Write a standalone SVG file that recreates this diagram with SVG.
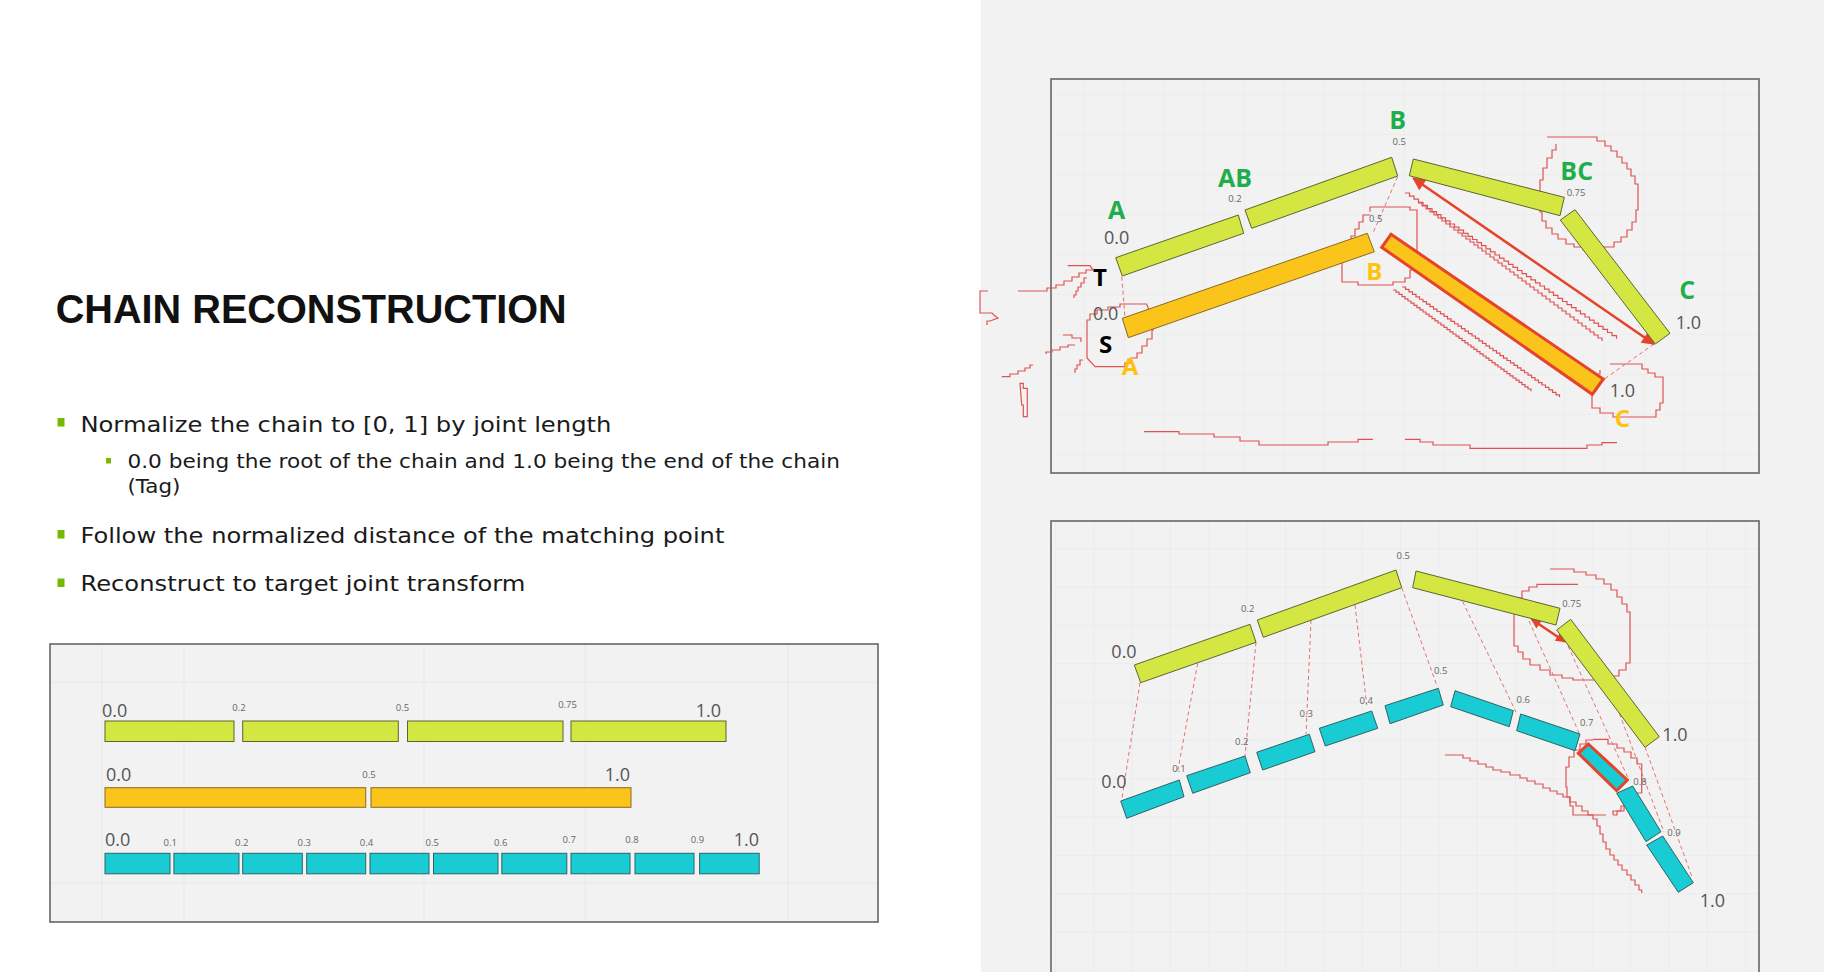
<svg xmlns="http://www.w3.org/2000/svg" width="1824" height="972" viewBox="0 0 1824 972">
<defs>
<style>
.title{font-family:"Liberation Sans",Arial,sans-serif;font-weight:bold;font-size:40px;fill:#111}
.b1{font-family:"DejaVu Sans","Liberation Sans",sans-serif;font-size:22px;fill:#1a1a1a}
.b2{font-family:"DejaVu Sans","Liberation Sans",sans-serif;font-size:19px;fill:#1a1a1a}
.num{font-family:"Open Sans","Liberation Sans",sans-serif;font-size:18px;fill:#555}
.sm{font-family:"Open Sans","Liberation Sans",sans-serif;font-size:9.5px;fill:#666}
.lg{font-family:"Open Sans","Liberation Sans",sans-serif;font-weight:bold;font-size:25px;fill:#1fae4b}
.lo{font-family:"Open Sans","Liberation Sans",sans-serif;font-weight:bold;font-size:24px;fill:#ffc20e}
.lk{font-family:"Open Sans","Liberation Sans",sans-serif;font-weight:bold;font-size:24px;fill:#000}
.gb{fill:#d3e642;stroke:#5d6630;stroke-width:1}
.ob{fill:#fac41b;stroke:#8a6a22;stroke-width:1}
.cb{fill:#19cbd3;stroke:#2f6466;stroke-width:1}
.hl{stroke:#e5432b;stroke-width:3}
.dash{stroke:#e87070;stroke-width:1;stroke-dasharray:4 3;fill:none}
.jag{stroke:#e05252;stroke-width:1.2;fill:none}
.arr{stroke:#e5432b;stroke-width:2.5;fill:none}
.panel{fill:#f2f2f2;stroke:#666;stroke-width:1.6}
.bullet{fill:#76b900}
</style>
<marker id="ah" viewBox="0 0 10 10" refX="9" refY="5" markerWidth="16" markerHeight="13" markerUnits="userSpaceOnUse" orient="auto-start-reverse"><path d="M0,0 L10,5 L0,10 z" fill="#e5432b"/></marker>
<marker id="ahs" viewBox="0 0 10 10" refX="9" refY="5" markerWidth="12" markerHeight="10" markerUnits="userSpaceOnUse" orient="auto-start-reverse"><path d="M0,0 L10,5 L0,10 z" fill="#e5432b"/></marker>
<pattern id="gridT" x="1084" y="134" width="40" height="40" patternUnits="userSpaceOnUse"><path d="M0,0 H40 M0,0 V40" stroke="#e6e6e6" stroke-width="1" fill="none"/></pattern>
<pattern id="gridB" x="1093.4" y="548.3" width="38.33" height="38.33" patternUnits="userSpaceOnUse"><path d="M0,0 H38.33 M0,0 V38.33" stroke="#e6e6e6" stroke-width="1" fill="none"/></pattern>
</defs>

<rect x="0" y="0" width="1824" height="972" fill="#ffffff"/>
<rect x="981" y="0" width="843" height="972" fill="#f2f2f2"/>

<g id="title"><text class="title" x="55.7" y="322.7" textLength="511" lengthAdjust="spacingAndGlyphs">CHAIN RECONSTRUCTION</text></g>

<g id="bullets">
<rect class="bullet" x="57.5" y="418" width="7" height="8.5"/>
<text class="b1" x="80.4" y="431.7" textLength="531" lengthAdjust="spacingAndGlyphs">Normalize the chain to [0, 1] by joint length</text>
<rect class="bullet" x="106" y="458" width="5" height="5.5"/>
<text class="b2" x="127.4" y="468" textLength="712.6" lengthAdjust="spacingAndGlyphs">0.0 being the root of the chain and 1.0 being the end of the chain</text>
<text class="b2" x="127.4" y="492.5" textLength="53" lengthAdjust="spacingAndGlyphs">(Tag)</text>
<rect class="bullet" x="57.5" y="530" width="7" height="8.5"/>
<text class="b1" x="80.4" y="542.7" textLength="644" lengthAdjust="spacingAndGlyphs">Follow the normalized distance of the matching point</text>
<rect class="bullet" x="57.5" y="578.5" width="7" height="8.5"/>
<text class="b1" x="80.4" y="590.7" textLength="445" lengthAdjust="spacingAndGlyphs">Reconstruct to target joint transform</text>
</g>

<!-- bottom-left normalized chains -->
<g id="panel-normalized">
<rect class="panel" x="50" y="644" width="828" height="278" fill="#f3f3f3"/>
<g stroke="#e8e8e8" stroke-width="1">
<line x1="102" y1="645" x2="102" y2="921"/><line x1="184" y1="645" x2="184" y2="921"/><line x1="424" y1="645" x2="424" y2="921"/><line x1="585" y1="645" x2="585" y2="921"/><line x1="788" y1="645" x2="788" y2="921"/>
<line x1="51" y1="682" x2="877" y2="682"/><line x1="51" y1="883" x2="877" y2="883"/>
</g>
<g id="row-green">
<rect class="gb" x="105" y="721" width="129" height="20.5"/>
<rect class="gb" x="242.7" y="721" width="155.6" height="20.5"/>
<rect class="gb" x="407.5" y="721" width="155.5" height="20.5"/>
<rect class="gb" x="571" y="721" width="155" height="20.5"/>
<text class="num" x="102" y="717" font-size="19">0.0</text>
<text class="sm" x="239" y="711" text-anchor="middle">0.2</text>
<text class="sm" x="402.5" y="711" text-anchor="middle">0.5</text>
<text class="sm" x="567.6" y="707.7" text-anchor="middle">0.75</text>
<text class="num" x="721" y="717" font-size="19" text-anchor="end">1.0</text>
</g>
<g id="row-orange">
<rect class="ob" x="105" y="787.7" width="260.7" height="19.6"/>
<rect class="ob" x="371" y="787.7" width="260" height="19.6"/>
<text class="num" x="106" y="780.7" font-size="19">0.0</text>
<text class="sm" x="369" y="778" text-anchor="middle">0.5</text>
<text class="num" x="630" y="780.7" font-size="19" text-anchor="end">1.0</text>
</g>
<g id="row-cyan">
<rect class="cb" x="105" y="853.3" width="65" height="20.5"/>
<rect class="cb" x="173.9" y="853.3" width="65.1" height="20.5"/>
<rect class="cb" x="242.7" y="853.3" width="59.6" height="20.5"/>
<rect class="cb" x="306.7" y="853.3" width="59" height="20.5"/>
<rect class="cb" x="370" y="853.3" width="59" height="20.5"/>
<rect class="cb" x="433.5" y="853.3" width="64.5" height="20.5"/>
<rect class="cb" x="501.8" y="853.3" width="65" height="20.5"/>
<rect class="cb" x="571" y="853.3" width="59" height="20.5"/>
<rect class="cb" x="635" y="853.3" width="59" height="20.5"/>
<rect class="cb" x="699.6" y="853.3" width="59.6" height="20.5"/>
<text class="num" x="105" y="845.7" font-size="19">0.0</text>
<text class="sm" x="170.3" y="845.7" text-anchor="middle">0.1</text>
<text class="sm" x="241.8" y="845.7" text-anchor="middle">0.2</text>
<text class="sm" x="304.2" y="845.7" text-anchor="middle">0.3</text>
<text class="sm" x="366.5" y="845.7" text-anchor="middle">0.4</text>
<text class="sm" x="432.2" y="845.7" text-anchor="middle">0.5</text>
<text class="sm" x="500.8" y="845.7" text-anchor="middle">0.6</text>
<text class="sm" x="569.3" y="843" text-anchor="middle">0.7</text>
<text class="sm" x="632" y="843" text-anchor="middle">0.8</text>
<text class="sm" x="697.5" y="843" text-anchor="middle">0.9</text>
<text class="num" x="759" y="845.7" font-size="19" text-anchor="end">1.0</text>
</g>
</g>

<!-- top-right panel -->
<g id="panel-top">
<rect class="panel" x="1051" y="79" width="708" height="394"/>
<rect x="1052" y="80" width="706" height="392" fill="url(#gridT)"/>
</g>

<g id="annotations-top">
<path class="jag" d="M1067.7,265.7 H1090 L1093,270 H1086 V273 H1079 V277 H1072 V281 H1064 V285 H1056 V288 H1047 V291 H1018"/>
<path class="jag" d="M1087,278 H1084 V283 H1081 V287 H1078 V291 H1076 V295 H1074 V298"/>
<path class="jag" d="M988,291 H980 V313 H992 L995,316 L998,318 L990,321 H987 V325"/>
<path class="jag" d="M1146.7,304 H1120 V307 H1108 V310 H1097 V314 H1090 V320 H1087 V358 L1095,366.7 H1125 V363 H1131 V358 H1137 V353 H1142 V346 H1147 V339 H1152 V330 H1153 V313 H1150 Z"/>
<path class="jag" d="M1063,335 H1072 V338 H1081 V342"/>
<path class="jag" d="M1075,345 H1068 V347 H1060 V350 H1052 V352 H1046 V354"/>
<path class="jag" d="M1083,360 H1080 V365 H1077 V369 H1075 V373"/>
<path class="jag" d="M1001.7,376.7 H1010 V374 H1018 V371 H1025 V368 H1030 V365 H1033"/>
<path class="jag" d="M1020,383.3 H1023.3 V388.3 H1027.3 V416.7 H1023.3 V405 H1021.7 Z"/>
<path class="jag" d="M1370,211.7 V207 H1410 V210 H1417 V262 H1414 V270 H1410 V278 H1405 V282 H1393 V285 H1358 V282 H1342 V252 H1346 V244 H1351 V236 H1355 V229 H1359 V222 H1363 V215 H1370"/>
<path class="jag" d="M1547,137 H1597 V141 H1605 V146 H1611 V151 H1617 V157 H1622 V163 H1627 V169 H1631 V176 H1635 V184 H1638 V210 H1636 V222 H1632 V230 H1627 V237 H1621 V242 H1614 V247 H1604 V250 H1583 V247 H1574 V244 H1566 V239 H1558 V234 H1552 V228 H1546 V221 H1542 V212 H1540 V180 H1543 V168 H1547 V158 H1552 V150 H1556 V144"/>
<path class="jag" d="M1610,364 H1642 V369 H1648 V373 H1655 V377 H1663 V403 H1660 V410 H1656 V417 H1613 V413 H1600 V408 H1592 V380 H1595 V374 H1600 V370"/>
<path class="jag" d="M1405,193 h4.5v3.1h4.5v3.1h4.5v3.1h4.5v3.1h4.5v3.1h4.5v3.1h4.5v3.1h4.5v3.1h4.5v3.1h4.5v3.1h4.5v3.1h4.5v3.1h4.5v3.1h4.5v3.1h4.5v3.1h4.5v3.1h4.5v3.1h4.5v3.1h4.5v3.1h4.5v3.1h4.5v3.1h4.5v3.1h4.5v3.1h4.5v3.1h4.5v3.1h4.5v3.1h4.5v3.1h4.5v3.1h4.5v3.1h4.5v3.1h4.5v3.1h4.5v3.1h4.5v3.1h4.5v3.1h4.5v3.1h4.5v3.1h4.5v3.1h4.5v3.1h4.5v3.1h4.5v3.1h4.5v3.1h4.5v3.1h4.5v3.1h4.5v3.1h4.5v3.1h4.5v3.1h4.5v3.1"/>
<path class="jag" d="M1418,203 h4v3h4v3h4v3h4v3h4v3h4v3h4v3h4v3h4v3h4v3h4v3h4v3h4v3h4v3h4v3h4v3h4v3h4v3h4v3h4v3h4v3h4v3h4v3h4v3h4v3h4v3h4v3h4v3h4v3h4v3h4v3h4v3h4v3h4v3h4v3h4v3h4v3h4v3h4v3h4v3h4v3h4v3h4v3h4v3h4v3h4v3"/>
<path class="jag" d="M1393,290 h3v2.2h3v2.2h3v2.2h3v2.2h3v2.2h3v2.2h3v2.2h3v2.2h3v2.2h3v2.2h3v2.2h3v2.2h3v2.2h3v2.2h3v2.2h3v2.2h3v2.2h3v2.2h3v2.2h3v2.2h3v2.2h3v2.2h3v2.2h3v2.2h3v2.2h3v2.2h3v2.2h3v2.2h3v2.2h3v2.2h3v2.2h3v2.2h3v2.2h3v2.2h3v2.2h3v2.2h3v2.2h3v2.2h3v2.2h3v2.2h3v2.2h3v2.2h3v2.2h3v2.2h3v2.2h3v2.2"/>
<path class="jag" d="M1402,287 h3.5v2.45h3.5v2.45h3.5v2.45h3.5v2.45h3.5v2.45h3.5v2.45h3.5v2.45h3.5v2.45h3.5v2.45h3.5v2.45h3.5v2.45h3.5v2.45h3.5v2.45h3.5v2.45h3.5v2.45h3.5v2.45h3.5v2.45h3.5v2.45h3.5v2.45h3.5v2.45h3.5v2.45h3.5v2.45h3.5v2.45h3.5v2.45h3.5v2.45h3.5v2.45h3.5v2.45h3.5v2.45h3.5v2.45h3.5v2.45h3.5v2.45h3.5v2.45h3.5v2.45h3.5v2.45h3.5v2.45h3.5v2.45h3.5v2.45h3.5v2.45h3.5v2.45h3.5v2.45h3.5v2.45h3.5v2.45h3.5v2.45h3.5v2.45h3.5v2.45"/>
<path class="jag" d="M1144,431.7 H1179 V434 H1214 V437 H1240 V441 H1259 V445 H1328 V442 H1358 V439.3 H1373"/>
<path class="jag" d="M1405,439.3 H1420 V442 H1433 V445 H1470 V448.3 H1587 V445 H1602 V442.7 H1617"/>
</g>

<g id="connectors-top">
<line class="dash" x1="1121.7" y1="276.7" x2="1125" y2="318"/>
<line class="dash" x1="1397.7" y1="176.7" x2="1373" y2="233"/>
<line class="dash" x1="1654" y1="344" x2="1603" y2="380"/>
<line class="arr" x1="1413.3" y1="178.3" x2="1654" y2="344" marker-start="url(#ah)" marker-end="url(#ah)"/>
</g>

<g id="target-chain-top">
<polygon class="gb" points="1115.7,257.7 1238.3,215 1243.7,233.3 1122.3,276"/>
<polygon class="gb" points="1245,210 1391.7,157.3 1397.7,176 1251.7,228.3"/>
<polygon class="gb" points="1413.3,159 1564.3,197.3 1560,215.7 1409.3,175.7"/>
<polygon class="gb" points="1575,209.7 1670,333.3 1655.3,344 1560.3,220"/>
</g>
<g id="source-chain-top">
<polygon class="ob" points="1122.3,318.3 1367.3,233.3 1374.3,251.7 1128.3,337.7"/>
<polygon class="ob hl" points="1391,234.3 1603.3,379 1592.3,394.3 1381.7,247.3"/>
</g>

<g id="labels-top">
<text class="lg" x="1116.7" y="219.3" text-anchor="middle">A</text>
<text class="num" x="1116.7" y="244.3" text-anchor="middle" font-size="17">0.0</text>
<text class="lg" x="1235" y="186.7" text-anchor="middle">AB</text>
<text class="sm" x="1235" y="201.7" text-anchor="middle">0.2</text>
<text class="lg" x="1397.7" y="129.3" text-anchor="middle">B</text>
<text class="sm" x="1399.3" y="145.3" text-anchor="middle">0.5</text>
<text class="lg" x="1576.7" y="180" text-anchor="middle">BC</text>
<text class="sm" x="1566.7" y="196">0.75</text>
<text class="lg" x="1687.3" y="299.3" text-anchor="middle">C</text>
<text class="num" x="1688.3" y="329.3" text-anchor="middle" font-size="17">1.0</text>
<text class="lk" x="1100" y="285.7" text-anchor="middle">T</text>
<text class="num" x="1105.7" y="320" text-anchor="middle" font-size="17">0.0</text>
<text class="lk" x="1105.7" y="353.3" text-anchor="middle">S</text>
<text class="lo" x="1130" y="375" text-anchor="middle">A</text>
<text class="sm" x="1375.7" y="221.7" text-anchor="middle">0.5</text>
<text class="lo" x="1374.3" y="280" text-anchor="middle">B</text>
<text class="num" x="1622.3" y="396.7" text-anchor="middle" font-size="17">1.0</text>
<text class="lo" x="1622.3" y="427.3" text-anchor="middle">C</text>
</g>

<!-- bottom-right panel -->
<g id="panel-bottom">
<rect class="panel" x="1051" y="521" width="708" height="470"/>
<rect x="1052" y="522" width="706" height="460" fill="url(#gridB)"/>
</g>

<g id="annotations-bottom">
<path class="jag" d="M1550,569 H1574 V572 H1586 V575 H1596 V579 H1604 V584 H1611 V590 H1617 V597 H1622 V604 H1627 V612 H1630 V663 H1626 V670 H1619 V676 H1607 V680 H1573 V678 H1562 V675 H1550 V670 H1540 V665 H1530 V659 H1523 V652 H1518 V646 H1514 V608 H1517 V598 H1522 V591 H1529 V587 H1537 V584.3 H1578"/>
<path class="jag" d="M1593,739.3 H1608 V744 H1617 V748 H1624 V752 H1631 V758 H1637 V764 H1641.7 V793 H1637 V800 H1631 V806 H1624 V811 H1613 V815"/>
<path class="jag" d="M1606,815 H1573 V806 H1570 V797 H1567 V787 H1566 V767 H1569 V757 H1574 V750 H1580 V744 H1586 V740 H1593"/>
<path class="jag" d="M1445,755 H1463 V758 H1470 V761 H1478 V764 H1486 V767 H1493 V770 H1501 V772 H1510 V775 H1520 V778 H1527 V781 H1535 V784 H1543 V788 H1550 V791 H1557 V794 H1563 V797 H1570 V802 H1576 V806 H1582 V811 H1588 V815 H1593 V819 H1597 V826 H1600 V834 H1603 V842 H1606 V849 H1610 V855 H1614 V860 H1618 V865 H1622 V870 H1627 V875 H1631 V880 H1635 V885 H1639 V890 H1641.7 V893"/>
<path class="jag" d="M1613,815 H1617 V811 H1621 V806 H1625 V802 H1629 V797 H1633 V790"/>
</g>

<g id="connectors-bottom">
<line class="dash" x1="1140" y1="682.7" x2="1121.7" y2="800"/>
<line class="dash" x1="1197.7" y1="663.3" x2="1177.3" y2="773.3"/>
<line class="dash" x1="1256" y1="642.3" x2="1245" y2="756"/>
<line class="dash" x1="1311" y1="620" x2="1306" y2="734.3"/>
<line class="dash" x1="1355" y1="605" x2="1366.7" y2="705"/>
<line class="dash" x1="1401.7" y1="587.7" x2="1437.3" y2="686.7"/>
<line class="dash" x1="1462.7" y1="601.7" x2="1516" y2="712"/>
<line class="dash" x1="1529" y1="621" x2="1580" y2="735"/>
<line class="dash" x1="1568" y1="646" x2="1629" y2="780"/>
<line class="dash" x1="1612" y1="694" x2="1664" y2="832"/>
<line class="dash" x1="1645" y1="747" x2="1692" y2="877"/>
<line class="arr" x1="1531.7" y1="619.3" x2="1565" y2="641.7" marker-start="url(#ahs)" marker-end="url(#ahs)"/>
</g>

<g id="target-chain-bottom">
<polygon class="gb" points="1134.3,665 1250,624.3 1256,642.3 1140.7,682.7"/>
<polygon class="gb" points="1257.3,620 1396,570 1401.7,587.7 1263.3,637.3"/>
<polygon class="gb" points="1416,571 1560,608.3 1556,625 1412.7,587.7"/>
<polygon class="gb" points="1570.7,619.3 1659.3,736.7 1645,747.3 1556.7,630"/>
</g>
<g id="source-chain-bottom">
<polygon class="cb" points="1120.7,801 1179.3,780 1184,796.7 1126.7,818.3"/>
<polygon class="cb" points="1186.7,775.7 1245,756 1250.3,772.7 1192.7,793.3"/>
<polygon class="cb" points="1256.7,752.3 1309.3,734.3 1315,751.7 1262.7,770"/>
<polygon class="cb" points="1319.3,728.3 1371.7,711 1377.7,728.3 1325.3,746"/>
<polygon class="cb" points="1385,705.7 1438.3,688.3 1443.3,705 1390,723.7"/>
<polygon class="cb" points="1455,690.7 1513.3,710.7 1509.3,726.7 1450.7,706.7"/>
<polygon class="cb" points="1520.7,714 1580,734 1575,750.7 1516.7,730.7"/>
<polygon class="cb hl" points="1588.3,744 1627.3,780 1616.7,790.7 1578.3,753.3"/>
<polygon class="cb" points="1632.7,786 1661,831.7 1646,841.7 1616.7,793.3"/>
<polygon class="cb" points="1662.7,836 1693.3,882.7 1678.3,892.3 1646.7,845"/>
</g>

<g id="labels-bottom">
<text class="sm" x="1403.3" y="558.7" text-anchor="middle">0.5</text>
<text class="num" x="1124" y="658.3" text-anchor="middle">0.0</text>
<text class="sm" x="1247.7" y="612" text-anchor="middle">0.2</text>
<text class="sm" x="1562.3" y="606.7">0.75</text>
<text class="num" x="1675" y="740.7" text-anchor="middle">1.0</text>
<text class="num" x="1114" y="788.3" text-anchor="middle">0.0</text>
<text class="sm" x="1179" y="771.7" text-anchor="middle">0.1</text>
<text class="sm" x="1241.7" y="744.7" text-anchor="middle">0.2</text>
<text class="sm" x="1306.3" y="717.3" text-anchor="middle">0.3</text>
<text class="sm" x="1366.3" y="703.7" text-anchor="middle">0.4</text>
<text class="sm" x="1440.7" y="674" text-anchor="middle">0.5</text>
<text class="sm" x="1523.3" y="703.3" text-anchor="middle">0.6</text>
<text class="sm" x="1586.7" y="726" text-anchor="middle">0.7</text>
<text class="sm" x="1640" y="784.7" text-anchor="middle">0.8</text>
<text class="sm" x="1674" y="836" text-anchor="middle">0.9</text>
<text class="num" x="1712.3" y="907.3" text-anchor="middle">1.0</text>
</g>
</svg>
